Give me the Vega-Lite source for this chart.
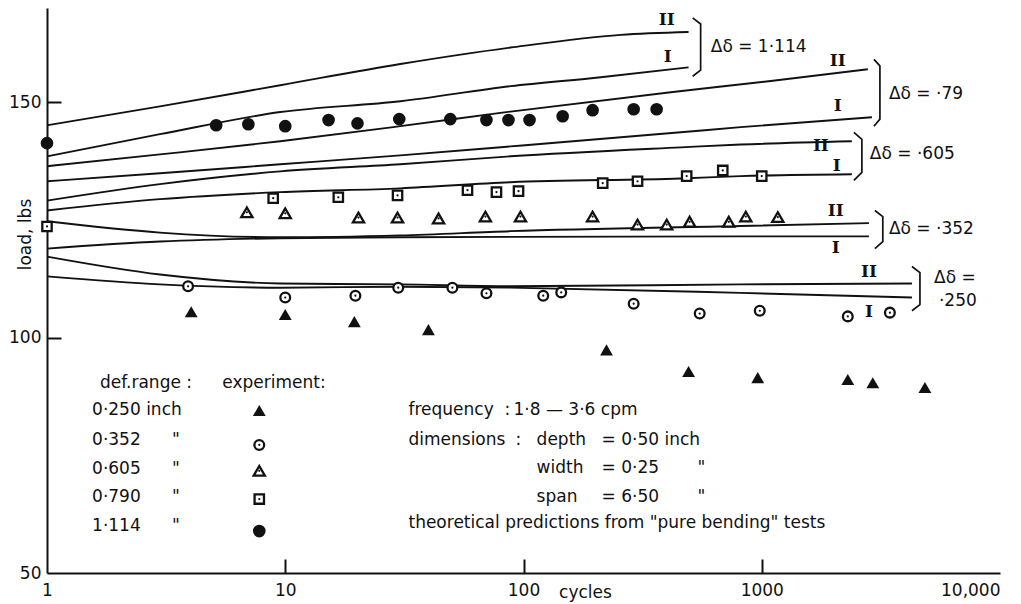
{
  "$schema": "https://vega.github.io/schema/vega-lite/v6.json",
  "autosize": {"type": "none"},
  "padding": {"left": 47, "top": 8, "right": 21, "bottom": 31},
  "width": 953,
  "height": 565,
  "background": "white",
  "config": {
    "view": {"stroke": null},
    "axis": {"grid": false, "domainColor": "#111", "domainWidth": 2, "tickColor": "#111", "tickWidth": 2, "labelColor": "#111", "titleColor": "#111", "labelFont": "DejaVu Sans", "titleFont": "DejaVu Sans", "labelFontSize": 17, "titleFontSize": 17, "titleFontWeight": "normal"}
  },
  "datasets": {
    "curves": [
      {"c": "L1", "n": 1, "load": 145.1}, {"c": "L1", "n": 2.98, "load": 149.1}, {"c": "L1", "n": 9.53, "load": 153.6}, {"c": "L1", "n": 30.4, "load": 158.1}, {"c": "L1", "n": 88.2, "load": 161.6}, {"c": "L1", "n": 256, "load": 164.3}, {"c": "L1", "n": 493, "load": 164.9},
      {"c": "L2", "n": 1, "load": 138.5}, {"c": "L2", "n": 2.98, "load": 143.2}, {"c": "L2", "n": 9.53, "load": 147.9}, {"c": "L2", "n": 30.4, "load": 150.2}, {"c": "L2", "n": 88.2, "load": 153.4}, {"c": "L2", "n": 211, "load": 155.3}, {"c": "L2", "n": 493, "load": 157.4},
      {"c": "L3", "n": 1, "load": 136.4}, {"c": "L3", "n": 2.98, "load": 138.9}, {"c": "L3", "n": 9.53, "load": 141.7}, {"c": "L3", "n": 30.4, "load": 144.9}, {"c": "L3", "n": 88.2, "load": 148.0}, {"c": "L3", "n": 415, "load": 152.1}, {"c": "L3", "n": 1091, "load": 154.5}, {"c": "L3", "n": 2788, "load": 157.0},
      {"c": "L4", "n": 1, "load": 133.2}, {"c": "L4", "n": 2.98, "load": 134.9}, {"c": "L4", "n": 9.53, "load": 136.8}, {"c": "L4", "n": 30.4, "load": 138.7}, {"c": "L4", "n": 88.2, "load": 140.6}, {"c": "L4", "n": 457, "load": 143.6}, {"c": "L4", "n": 816, "load": 144.7}, {"c": "L4", "n": 2900, "load": 146.8},
      {"c": "L5", "n": 1, "load": 129.1}, {"c": "L5", "n": 2.98, "load": 132.6}, {"c": "L5", "n": 9.53, "load": 135.3}, {"c": "L5", "n": 30.4, "load": 136.8}, {"c": "L5", "n": 88.2, "load": 138.5}, {"c": "L5", "n": 457, "load": 140.4}, {"c": "L5", "n": 816, "load": 141.0}, {"c": "L5", "n": 2389, "load": 141.7},
      {"c": "L6", "n": 1, "load": 127.0}, {"c": "L6", "n": 2.98, "load": 129.4}, {"c": "L6", "n": 9.53, "load": 130.9}, {"c": "L6", "n": 30.4, "load": 131.7}, {"c": "L6", "n": 88.2, "load": 133.0}, {"c": "L6", "n": 457, "load": 133.8}, {"c": "L6", "n": 816, "load": 134.3}, {"c": "L6", "n": 2389, "load": 134.7},
      {"c": "L7", "n": 1, "load": 124.7}, {"c": "L7", "n": 2.98, "load": 122.3}, {"c": "L7", "n": 9.53, "load": 121.3}, {"c": "L7", "n": 30.4, "load": 121.7}, {"c": "L7", "n": 88.2, "load": 122.6}, {"c": "L7", "n": 816, "load": 123.7}, {"c": "L7", "n": 2817, "load": 124.3},
      {"c": "L8", "n": 1, "load": 118.9}, {"c": "L8", "n": 2.98, "load": 120.4}, {"c": "L8", "n": 9.53, "load": 121.1}, {"c": "L8", "n": 30.4, "load": 121.3}, {"c": "L8", "n": 88.2, "load": 121.4}, {"c": "L8", "n": 816, "load": 121.5}, {"c": "L8", "n": 2817, "load": 121.5},
      {"c": "L9", "n": 1, "load": 117.2}, {"c": "L9", "n": 2.98, "load": 113.4}, {"c": "L9", "n": 9.53, "load": 111.5}, {"c": "L9", "n": 30.4, "load": 111.3}, {"c": "L9", "n": 88.2, "load": 110.9}, {"c": "L9", "n": 816, "load": 111.3}, {"c": "L9", "n": 4270, "load": 111.5},
      {"c": "L10", "n": 1, "load": 113.0}, {"c": "L10", "n": 2.98, "load": 111.3}, {"c": "L10", "n": 9.53, "load": 110.6}, {"c": "L10", "n": 30.4, "load": 110.8}, {"c": "L10", "n": 88.2, "load": 110.6}, {"c": "L10", "n": 816, "load": 109.5}, {"c": "L10", "n": 4270, "load": 108.5}
    ],
    "brackets": [
      {"b": "B1", "o": 1, "n": 513, "load": 167.9}, {"b": "B1", "o": 2, "n": 554, "load": 166.6}, {"b": "B1", "o": 3, "n": 554, "load": 156.8}, {"b": "B1", "o": 4, "n": 513, "load": 155.5},
      {"b": "B2", "o": 1, "n": 2957, "load": 159.1}, {"b": "B2", "o": 2, "n": 3133, "load": 157.7}, {"b": "B2", "o": 3, "n": 3133, "load": 146.4}, {"b": "B2", "o": 4, "n": 2957, "load": 144.9},
      {"b": "B3", "o": 1, "n": 2437, "load": 143.6}, {"b": "B3", "o": 2, "n": 2632, "load": 142.1}, {"b": "B3", "o": 3, "n": 2632, "load": 135.1}, {"b": "B3", "o": 4, "n": 2437, "load": 133.4},
      {"b": "B4", "o": 1, "n": 2984, "load": 127.0}, {"b": "B4", "o": 2, "n": 3222, "load": 125.7}, {"b": "B4", "o": 3, "n": 3222, "load": 120.4}, {"b": "B4", "o": 4, "n": 2984, "load": 118.9},
      {"b": "B5", "o": 1, "n": 4270, "load": 115.1}, {"b": "B5", "o": 2, "n": 4613, "load": 113.8}, {"b": "B5", "o": 3, "n": 4613, "load": 107.0}, {"b": "B5", "o": 4, "n": 4270, "load": 105.7}
    ],
    "points": [
      {"dr": "1.114", "n": 1, "load": 141.3}, {"dr": "1.114", "n": 5.13, "load": 145.1}, {"dr": "1.114", "n": 7.0, "load": 145.3}, {"dr": "1.114", "n": 10.0, "load": 144.9}, {"dr": "1.114", "n": 15.2, "load": 146.2}, {"dr": "1.114", "n": 20.1, "load": 145.5}, {"dr": "1.114", "n": 30.1, "load": 146.4}, {"dr": "1.114", "n": 49.3, "load": 146.4}, {"dr": "1.114", "n": 69.9, "load": 146.2}, {"dr": "1.114", "n": 86.5, "load": 146.2}, {"dr": "1.114", "n": 106, "load": 146.2}, {"dr": "1.114", "n": 146, "load": 147.0}, {"dr": "1.114", "n": 195, "load": 148.3}, {"dr": "1.114", "n": 290, "load": 148.5}, {"dr": "1.114", "n": 362, "load": 148.5},
      {"dr": "0.790", "n": 1, "load": 123.6}, {"dr": "0.790", "n": 8.9, "load": 129.6}, {"dr": "0.790", "n": 16.7, "load": 129.8}, {"dr": "0.790", "n": 29.6, "load": 130.2}, {"dr": "0.790", "n": 58.2, "load": 131.3}, {"dr": "0.790", "n": 77, "load": 130.9}, {"dr": "0.790", "n": 95.3, "load": 131.1}, {"dr": "0.790", "n": 215, "load": 132.8}, {"dr": "0.790", "n": 301, "load": 133.2}, {"dr": "0.790", "n": 484, "load": 134.3}, {"dr": "0.790", "n": 686, "load": 135.5}, {"dr": "0.790", "n": 1000, "load": 134.3},
      {"dr": "0.605", "n": 6.9, "load": 126.6}, {"dr": "0.605", "n": 10, "load": 126.4}, {"dr": "0.605", "n": 20.3, "load": 125.5}, {"dr": "0.605", "n": 29.6, "load": 125.5}, {"dr": "0.605", "n": 44, "load": 125.3}, {"dr": "0.605", "n": 69.2, "load": 125.7}, {"dr": "0.605", "n": 97.1, "load": 125.7}, {"dr": "0.605", "n": 195, "load": 125.7}, {"dr": "0.605", "n": 301, "load": 124.0}, {"dr": "0.605", "n": 399, "load": 124.0}, {"dr": "0.605", "n": 498, "load": 124.6}, {"dr": "0.605", "n": 727, "load": 124.6}, {"dr": "0.605", "n": 857, "load": 125.7}, {"dr": "0.605", "n": 1168, "load": 125.6},
      {"dr": "0.352", "n": 3.91, "load": 110.9}, {"dr": "0.352", "n": 10, "load": 108.5}, {"dr": "0.352", "n": 19.7, "load": 108.9}, {"dr": "0.352", "n": 29.8, "load": 110.6}, {"dr": "0.352", "n": 50.3, "load": 110.6}, {"dr": "0.352", "n": 69.9, "load": 109.4}, {"dr": "0.352", "n": 121, "load": 108.9}, {"dr": "0.352", "n": 144, "load": 109.6}, {"dr": "0.352", "n": 290, "load": 107.2}, {"dr": "0.352", "n": 549, "load": 105.1}, {"dr": "0.352", "n": 981, "load": 105.7}, {"dr": "0.352", "n": 2297, "load": 104.5}, {"dr": "0.352", "n": 3450, "load": 105.3},
      {"dr": "0.250", "n": 4.03, "load": 105.5}, {"dr": "0.250", "n": 10, "load": 104.9}, {"dr": "0.250", "n": 19.5, "load": 103.4}, {"dr": "0.250", "n": 39.9, "load": 101.7}, {"dr": "0.250", "n": 223, "load": 97.4}, {"dr": "0.250", "n": 493, "load": 92.8}, {"dr": "0.250", "n": 962, "load": 91.5}, {"dr": "0.250", "n": 2297, "load": 91.1}, {"dr": "0.250", "n": 2925, "load": 90.4}, {"dr": "0.250", "n": 4840, "load": 89.4},
      {"dr": "0.250", "n": 7.78, "load": 84.5}, {"dr": "0.352", "n": 7.78, "load": 77.2}, {"dr": "0.605", "n": 7.78, "load": 71.7}, {"dr": "0.790", "n": 7.78, "load": 65.7}, {"dr": "1.114", "n": 7.78, "load": 58.9}
    ],
    "notes": [
      {"t": "def.range :", "n": 1.67, "load": 90.4}, {"t": "experiment:", "n": 5.44, "load": 90.4},
      {"t": "0·250 inch", "n": 1.546, "load": 84.7}, {"t": "0·352", "n": 1.546, "load": 78.3}, {"t": "0·605", "n": 1.546, "load": 72.1}, {"t": "0·790", "n": 1.546, "load": 66.2}, {"t": "1·114", "n": 1.546, "load": 60.0},
      {"t": "\"", "n": 3.35, "load": 78.3}, {"t": "\"", "n": 3.35, "load": 72.1}, {"t": "\"", "n": 3.35, "load": 66.2}, {"t": "\"", "n": 3.35, "load": 60.0},
      {"t": "frequency", "n": 32.9, "load": 84.7}, {"t": ":", "n": 83.2, "load": 84.7}, {"t": "1·8 — 3·6 cpm", "n": 90.8, "load": 84.7},
      {"t": "dimensions", "n": 32.9, "load": 78.3}, {"t": ":", "n": 92.5, "load": 78.3}, {"t": "depth", "n": 113.5, "load": 78.3}, {"t": "= 0·50 inch", "n": 212.7, "load": 78.3},
      {"t": "width", "n": 113.5, "load": 72.3}, {"t": "= 0·25", "n": 212.7, "load": 72.3}, {"t": "\"", "n": 538, "load": 72.3},
      {"t": "span", "n": 113.5, "load": 66.2}, {"t": "= 6·50", "n": 212.7, "load": 66.2}, {"t": "\"", "n": 538, "load": 66.2},
      {"t": "theoretical predictions from \"pure bending\" tests", "n": 32.9, "load": 60.6}
    ],
    "roman": [
      {"t": "II", "n": 399, "load": 167.4}, {"t": "I", "n": 403, "load": 159.6},
      {"t": "II", "n": 2085, "load": 158.7}, {"t": "I", "n": 2085, "load": 149.1},
      {"t": "II", "n": 1770, "load": 140.6}, {"t": "I", "n": 2066, "load": 136.4},
      {"t": "II", "n": 2045, "load": 126.8}, {"t": "I", "n": 2045, "load": 119.1},
      {"t": "II", "n": 2817, "load": 114.0}, {"t": "I", "n": 2817, "load": 105.5}
    ],
    "deltas": [
      {"t": "Δδ = 1·114", "n": 611, "load": 161.7}, {"t": "Δδ = ·79", "n": 3418, "load": 151.7}, {"t": "Δδ = ·605", "n": 2843, "load": 138.9}, {"t": "Δδ = ·352", "n": 3418, "load": 123.0}, {"t": "Δδ =", "n": 5284, "load": 112.6}, {"t": "·250", "n": 5544, "load": 107.7}
    ]
  },
  "encoding": {
    "x": {"field": "n", "type": "quantitative", "scale": {"type": "log", "domain": [1, 10000]},
      "axis": {"values": [1, 10, 100, 1000, 10000], "title": "cycles", "titleX": 538, "titleY": 19, "titleBaseline": "middle", "titleAlign": "center",
        "tickSize": -14, "labelPadding": 23,
        "tickOpacity": {"condition": {"test": "datum.value == 1 || datum.value == 10000", "value": 0}, "value": 1},
        "labelAlign": {"condition": {"test": "datum.value >= 10000", "value": "right"}, "value": "center"},
        "labelExpr": "datum.value >= 10000 ? '10,000' : format(datum.value, 'd')"}},
    "y": {"field": "load", "type": "quantitative", "scale": {"domain": [50, 170]},
      "axis": {"values": [50, 100, 150], "title": "load, lbs", "titleAngle": 270, "titleX": -22, "titleY": 226, "titleAlign": "center", "titleBaseline": "middle",
        "tickSize": -14, "labelPadding": 20,
        "tickOpacity": {"condition": {"test": "datum.value == 50", "value": 0}, "value": 1}}}
  },
  "layer": [
    {"data": {"name": "curves"}, "mark": {"type": "line", "color": "#111", "strokeWidth": 1.9, "interpolate": "monotone"},
      "encoding": {"detail": {"field": "c"}}},
    {"data": {"name": "brackets"}, "mark": {"type": "line", "color": "#111", "strokeWidth": 1.7},
      "encoding": {"detail": {"field": "b"}, "order": {"field": "o"}}},
    {"data": {"name": "points"}, "transform": [{"filter": "datum.dr == '0.250'"}],
      "mark": {"type": "point", "shape": "triangle-up", "size": 165, "filled": true, "color": "#111", "opacity": 1, "strokeWidth": 0}},
    {"data": {"name": "points"}, "transform": [{"filter": "datum.dr == '1.114'"}],
      "mark": {"type": "point", "shape": "circle", "size": 160, "filled": true, "color": "#111", "opacity": 1, "strokeWidth": 0}},
    {"data": {"name": "points"}, "transform": [{"filter": "datum.dr == '0.352'"}],
      "mark": {"type": "point", "shape": "circle", "size": 95, "fill": "white", "fillOpacity": 1, "stroke": "#111", "strokeWidth": 2.3, "opacity": 1}},
    {"data": {"name": "points"}, "transform": [{"filter": "datum.dr == '0.605'"}],
      "mark": {"type": "point", "shape": "triangle-up", "size": 125, "fill": "white", "fillOpacity": 1, "stroke": "#111", "strokeWidth": 2.3, "opacity": 1}},
    {"data": {"name": "points"}, "transform": [{"filter": "datum.dr == '0.790'"}],
      "mark": {"type": "point", "shape": "square", "size": 88, "fill": "white", "fillOpacity": 1, "stroke": "#111", "strokeWidth": 2.3, "opacity": 1}},
    {"data": {"name": "points"}, "transform": [{"filter": "datum.dr == '0.352' || datum.dr == '0.605' || datum.dr == '0.790'"}],
      "mark": {"type": "point", "shape": "circle", "filled": true, "color": "#111", "size": 5, "opacity": 1}},
    {"data": {"name": "notes"}, "mark": {"type": "text", "align": "left", "baseline": "middle", "font": "DejaVu Sans", "fontSize": 17, "color": "#111"},
      "encoding": {"text": {"field": "t"}}},
    {"data": {"name": "roman"}, "mark": {"type": "text", "align": "center", "baseline": "middle", "font": "DejaVu Serif", "fontWeight": "bold", "fontSize": 17, "color": "#111"},
      "encoding": {"text": {"field": "t"}}},
    {"data": {"name": "deltas"}, "mark": {"type": "text", "align": "left", "baseline": "middle", "font": "DejaVu Sans", "fontSize": 17, "color": "#111"},
      "encoding": {"text": {"field": "t"}}}
  ]
}
